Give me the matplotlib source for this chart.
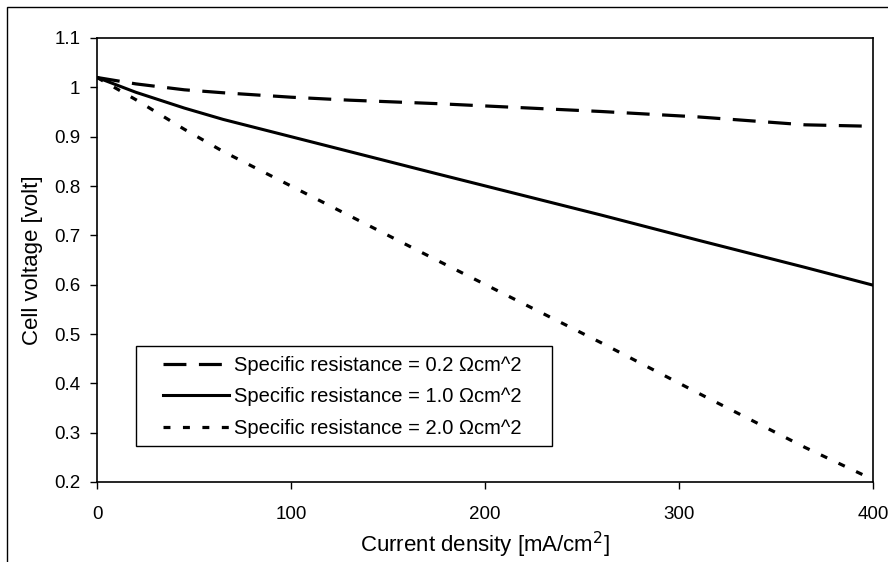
import matplotlib
matplotlib.use("Agg")
import matplotlib.pyplot as plt
from matplotlib.patches import Rectangle
from matplotlib.ticker import FixedLocator, FixedFormatter

plt.rcParams["font.family"] = ["Liberation Sans", "DejaVu Sans"]
plt.rcParams["lines.scale_dashes"] = False

# values
current = [0, 20, 45, 65, 100, 130, 175, 260, 310, 365, 400]
v_r02 = [1.02, 1.007, 0.995, 0.989, 0.980, 0.974, 0.967, 0.951, 0.940, 0.924, 0.921]
v_r10 = [1.02, 0.990, 0.958, 0.935, 0.900, 0.870, 0.825, 0.741, 0.690, 0.635, 0.599]
v_r20 = [1.02, 0.975, 0.915, 0.870, 0.800, 0.740, 0.650, 0.482, 0.380, 0.270, 0.205]
labels = ["Specific resistance = 0.2 \u03a9cm^2",
          "Specific resistance = 1.0 \u03a9cm^2",
          "Specific resistance = 2.0 \u03a9cm^2"]
yticks = [0.2, 0.3, 0.4, 0.5, 0.6, 0.7, 0.8, 0.9, 1.0, 1.1]
ytick_labels = ["0.2", "0.3", "0.4", "0.5", "0.6", "0.7", "0.8", "0.9", "1", "1.1"]
xticks = [0, 100, 200, 300, 400]

fig = plt.figure(figsize=(8.88, 5.62), dpi=100)
ax = fig.add_axes([97 / 888, 1 - 482 / 562, 776 / 888, 444 / 562])

# outer chart-area frame (cropped on right and bottom as in the screenshot)
fig.add_artist(Rectangle((7 / 888, -0.2), 2, 1.2 - 7 / 562, transform=fig.transFigure,
                         fill=False, lw=1.0, ec="black"))

ax.plot(current, v_r02, color="black", lw=2.3, dashes=(16.5, 9.0), label=labels[0])
ax.plot(current, v_r10, color="black", lw=2.2, label=labels[1])
ax.plot(current, v_r20, color="black", lw=2.3, dashes=(5.0, 9.0), label=labels[2])

ax.set_xlim(0, 400)
ax.set_ylim(0.2, 1.1)
ax.xaxis.set_major_locator(FixedLocator(xticks))
ax.yaxis.set_major_locator(FixedLocator(yticks))
ax.yaxis.set_major_formatter(FixedFormatter(ytick_labels))
ax.tick_params(axis="x", direction="out", length=5, width=1, pad=12, labelsize=13.5)
ax.tick_params(axis="y", direction="out", length=5, width=1, pad=7, labelsize=13.5)
for s in ax.spines.values():
    s.set_linewidth(1.2)
    s.set_color("black")

ax.set_xlabel("Current density [mA/cm$^2$]", fontsize=16)
ax.set_ylabel("Cell voltage [volt]", fontsize=16)
ax.xaxis.set_label_coords(0.5, -0.108)
ax.yaxis.set_label_coords(-0.070, 0.5)

leg = ax.legend(loc="upper left", bbox_to_anchor=(0.085, 0.284), frameon=False,
                fontsize=14.5, handlelength=3.3, handletextpad=0.25,
                labelspacing=0.62, borderpad=0.0, borderaxespad=0.0)
ax.add_patch(Rectangle((0.050, 0.081), 0.536, 0.225, transform=ax.transAxes,
                       fill=False, lw=1.0, ec="black", zorder=5))

fig.savefig("out.png", dpi=100)
